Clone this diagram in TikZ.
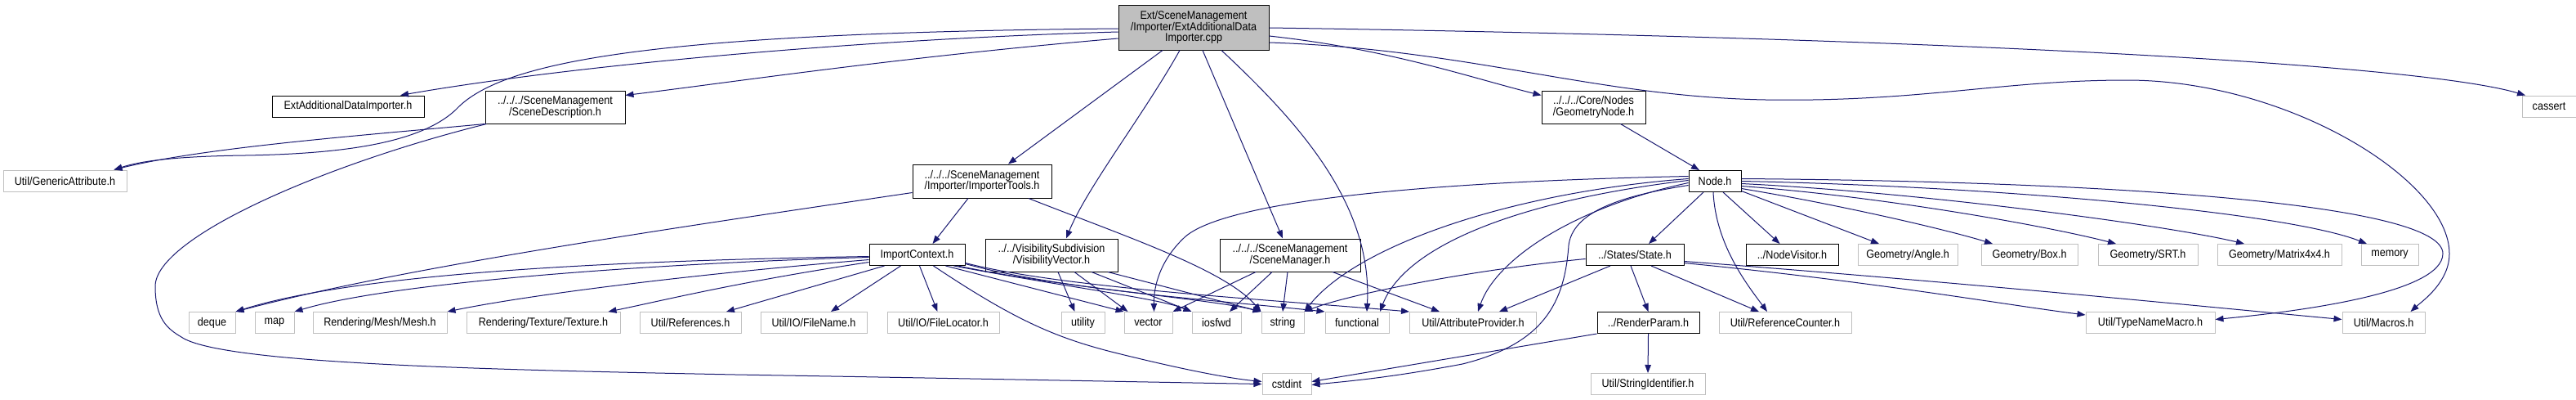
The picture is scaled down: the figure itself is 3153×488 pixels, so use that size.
\documentclass[tikz,border=0pt]{standalone}
\usepackage{fontspec}
\setmainfont{Liberation Sans}[FakeStretch=0.9]
\usetikzlibrary{arrows.meta}
\definecolor{edgec}{RGB}{25,25,112}
\definecolor{grayb}{RGB}{191,191,191}
\begin{document}
\begin{tikzpicture}[x=1pt,y=-1pt,
  box/.style={line width=1pt, inner sep=0pt, minimum height=26pt, align=center, font=\fontsize{14}{13.5}\selectfont},
  doc/.style={box, draw=black},
  ext/.style={box, draw=grayb},
  e/.style={draw=edgec, line width=1pt, -{Triangle[length=10pt,width=7.5pt]}}
]
\fill[white] (0,0) rectangle (3153,488);
\useasboundingbox (0,0) rectangle (3153,488);

% nodes
\node[doc, fill=grayb, minimum width=184pt, minimum height=55pt] (T) at (1461,33.5) {Ext/SceneManagement\\/Importer/ExtAdditionalData\\Importer.cpp};
\node[doc, minimum width=186pt] (EADI) at (426,130) {ExtAdditionalDataImporter.h};
\node[doc, minimum width=171pt, minimum height=40pt] (SD) at (679.5,131) {../../../SceneManagement\\/SceneDescription.h};
\node[ext, minimum width=151pt] (GA) at (79.5,221) {Util/GenericAttribute.h};
\node[doc, minimum width=170pt, minimum height=41pt] (IT) at (1202,221.5) {../../../SceneManagement\\/Importer/ImporterTools.h};
\node[doc, minimum width=127pt, minimum height=40pt] (GN) at (1950.5,131) {../../../Core/Nodes\\/GeometryNode.h};
\node[ext, minimum width=66pt] (cassert) at (3120,130) {cassert};
\node[doc, minimum width=64pt] (Node) at (2099,221.5) {Node.h};
\node[doc, minimum width=117pt] (IC) at (1122.5,311.5) {ImportContext.h};
\node[doc, minimum width=162pt, minimum height=40pt] (VV) at (1287,312) {../../VisibilitySubdivision\\/VisibilityVector.h};
\node[doc, minimum width=172pt, minimum height=40pt] (SM) at (1579,312) {../../../SceneManagement\\/SceneManager.h};
\node[doc, minimum width=120pt] (State) at (2001,311.5) {../States/State.h};
\node[doc, minimum width=113pt] (NV) at (2193.5,311.5) {../NodeVisitor.h};
\node[ext, minimum width=122pt] (Angle) at (2335,311.5) {Geometry/Angle.h};
\node[ext, minimum width=118pt] (Box) at (2484,311.5) {Geometry/Box.h};
\node[ext, minimum width=122pt] (SRT) at (2629,311.5) {Geometry/SRT.h};
\node[ext, minimum width=152pt] (Mat) at (2790,311.5) {Geometry/Matrix4x4.h};
\node[ext, minimum width=70pt] (memory) at (2925,311.5) {memory};

\node[ext, minimum width=57pt] (deque) at (259.5,394.5) {deque};
\node[ext, minimum width=48pt] (map) at (336,394.5) {map};
\node[ext, minimum width=164pt] (Mesh) at (465,394.5) {Rendering/Mesh/Mesh.h};
\node[ext, minimum width=188pt] (Texture) at (665,394.5) {Rendering/Texture/Texture.h};
\node[ext, minimum width=124pt] (Refs) at (845,394.5) {Util/References.h};
\node[ext, minimum width=130pt] (FileName) at (996,394.5) {Util/IO/FileName.h};
\node[ext, minimum width=137pt] (FileLoc) at (1154.5,394.5) {Util/IO/FileLocator.h};
\node[ext, minimum width=53pt] (utility) at (1325.5,394.5) {utility};
\node[ext, minimum width=59pt] (vector) at (1405.5,394.5) {vector};
\node[ext, minimum width=60pt] (iosfwd) at (1489,394.5) {iosfwd};
\node[ext, minimum width=52pt] (string) at (1570,394.5) {string};
\node[ext, minimum width=78pt] (functional) at (1661,394.5) {functional};
\node[ext, minimum width=155pt] (AttrProv) at (1803,394.5) {Util/AttributeProvider.h};
\node[doc, minimum width=125pt] (RP) at (2017.5,394.5) {../RenderParam.h};
\node[ext, minimum width=162pt] (RefCnt) at (2185,394.5) {Util/ReferenceCounter.h};
\node[ext, minimum width=158pt] (TypeName) at (2632,394.5) {Util/TypeNameMacro.h};
\node[ext, minimum width=101pt] (Macros) at (2917.5,394.5) {Util/Macros.h};
\node[ext, minimum width=60pt] (cstdint) at (1575,469.5) {cstdint};
\node[ext, minimum width=140pt] (SI) at (2017,469.5) {Util/StringIdentifier.h};

% edges from T
\draw[e] ([yshift=-1.5pt]T.west) .. controls (800,40) and (620,75) .. (562,130) .. controls (520,175) and (420,188) .. (300,190) .. controls (220,191) and (175,196) .. ([xshift=60pt]GA.north);
\draw[e] ([yshift=-5.5pt]T.west) .. controls (1050,48) and (700,80) .. ([xshift=64pt]EADI.north);
\draw[e] ([yshift=-13.5pt]T.west) .. controls (1100,70) and (900,100) .. ([yshift=-6pt]SD.north east);
\draw[e] ([xshift=-38pt]T.south) -- ([xshift=32pt]IT.north);
\draw[e] ([xshift=-17pt]T.south) .. controls (1400,140) and (1330,230) .. ([xshift=18pt]VV.north);
\draw[e] ([xshift=11pt]T.south) -- ([xshift=-9pt]SM.north);
\draw[e] ([xshift=34pt]T.south) .. controls (1590,150) and (1680,250) .. ([xshift=12pt]functional.north);
\draw[e] ([yshift=-10.5pt]T.east) .. controls (1700,60) and (1800,95) .. ([yshift=-6pt]GN.north west);
\draw[e] ([yshift=-18.5pt]T.east) .. controls (1800,60) and (1950,118) .. (2161,122) .. controls (2350,125) and (2450,98) .. (2603,98) .. controls (2800,98) and (2998,220) .. (2998,310) .. controls (2998,345) and (2965,368) .. ([xshift=33pt]Macros.north);
\draw[e] ([yshift=-0.5pt]T.east) .. controls (2300,45) and (2950,75) .. ([xshift=-29pt]cassert.north);

% SD
\draw[e] (SD.south west) .. controls (450,165) and (250,180) .. ([xshift=60pt]GA.north);
\draw[e] ([xshift=2pt]SD.south west) .. controls (400,200) and (190,290) .. (190,350) .. controls (190,390) and (205,402) .. (222,412) .. controls (270,445) and (600,452) .. (900,458) .. controls (1200,463) and (1400,467) .. (cstdint.west);

% GN
\draw[e] ([xshift=33pt]GN.south) -- ([xshift=-19pt]Node.north);

% IT
\draw[e] ([xshift=-17pt]IT.south) -- ([xshift=19pt]IC.north);
\draw[e] ([yshift=-14pt]IT.west) .. controls (850,275) and (500,325) .. (deque.north east);
\draw[e] ([xshift=57pt]IT.south) .. controls (1380,290) and (1500,330) .. (string.north west);

% IC
\draw[e] ([yshift=-2pt]IC.west) .. controls (800,318) and (450,330) .. (deque.north east);
\draw[e] ([yshift=-3pt]IC.west) .. controls (800,322) and (480,345) .. (map.north east);
\draw[e] ([yshift=-6pt]IC.west) .. controls (850,335) and (650,360) .. (Mesh.north east);
\draw[e] ([yshift=-9pt]IC.west) .. controls (900,345) and (800,370) .. ([xshift=-15pt]Texture.north east);
\draw[e] ([xshift=-40pt]IC.south) -- ([xshift=44pt]Refs.north);
\draw[e] ([xshift=-20pt]IC.south) -- ([xshift=21pt]FileName.north);
\draw[e] ([xshift=3pt]IC.south) -- ([xshift=-7pt]FileLoc.north);
\draw[e] ([xshift=20pt]IC.south) .. controls (1240,390) and (1290,412) .. (1360,430) .. controls (1440,450) and (1500,462) .. ([yshift=3pt]cstdint.west);
\draw[e] ([xshift=35pt]IC.south) -- (vector.north west);
\draw[e] ([xshift=45pt]IC.south) .. controls (1300,350) and (1420,365) .. (iosfwd.north west);
\draw[e] ([xshift=50pt]IC.south) .. controls (1300,352) and (1480,365) .. (string.north west);
\draw[e] ([yshift=-11pt]IC.east) .. controls (1300,355) and (1500,368) .. (functional.north west);
\draw[e] ([yshift=-10pt]IC.east) .. controls (1300,352) and (1550,366) .. (AttrProv.north west);

% VV
\draw[e] ([xshift=8pt]VV.south) -- ([xshift=-10pt]utility.north);
\draw[e] ([xshift=28pt]VV.south) -- ([xshift=-25pt]vector.north);
\draw[e] ([xshift=49pt]VV.south) -- (iosfwd.north west);
\draw[e] ([xshift=69pt]VV.south) -- (string.north west);

% SM
\draw[e] ([xshift=-42pt]SM.south) -- (vector.north east);
\draw[e] ([xshift=-22pt]SM.south) -- ([xshift=16pt]iosfwd.north);
\draw[e] ([xshift=-3pt]SM.south) -- (string.north);
\draw[e] ([xshift=52pt]SM.south) -- ([xshift=-41pt]AttrProv.north);

% Node.h
\draw[e] ([yshift=6pt]Node.west) .. controls (1750,222) and (1500,245) .. (1450,290) .. controls (1420,318) and (1412,350) .. ([xshift=7pt]vector.north);
\draw[e] ([yshift=3pt]Node.west) .. controls (1850,235) and (1660,300) .. (string.north east);
\draw[e] ([yshift=1pt]Node.west) .. controls (1860,245) and (1720,300) .. ([xshift=28pt]functional.north);
\draw[e] ([yshift=-2pt]Node.west) .. controls (1920,255) and (1830,320) .. ([xshift=6pt]AttrProv.north);
\draw[e] ([yshift=-5pt]Node.west) .. controls (1980,240) and (1925,260) .. (1920,300) .. controls (1915,370) and (1890,420) .. (1790,445) .. controls (1700,462) and (1650,466) .. ([yshift=-1pt]cstdint.east);
\draw[e] ([xshift=-14pt]Node.south) -- ([xshift=17pt]State.north);
\draw[e] ([xshift=-2pt]Node.south) .. controls (2100,300) and (2140,350) .. ([xshift=-22pt]RefCnt.north);
\draw[e] ([xshift=10pt]Node.south) -- ([xshift=-15pt]NV.north);
\draw[e] ([yshift=-12pt]Node.east) -- ([xshift=-35pt]Angle.north);
\draw[e] ([yshift=-9pt]Node.east) .. controls (2250,250) and (2380,280) .. ([xshift=-45pt]Box.north);
\draw[e] ([yshift=-6pt]Node.east) .. controls (2300,240) and (2500,275) .. ([xshift=-39pt]SRT.north);
\draw[e] ([yshift=-3pt]Node.east) .. controls (2350,235) and (2650,275) .. ([xshift=-43pt]Mat.north);
\draw[e] (Node.east) .. controls (2450,228) and (2800,260) .. ([xshift=-28pt]memory.north);
\draw[e] ([yshift=3pt]Node.east) .. controls (2600,222) and (2990,250) .. (2990,310) .. controls (2990,360) and (2800,382) .. ([yshift=4pt]TypeName.east);

% State
\draw[e] ([yshift=-5pt]State.west) .. controls (1800,330) and (1650,360) .. (string.north east);
\draw[e] ([xshift=-30pt]State.south) -- ([xshift=32pt]AttrProv.north);
\draw[e] ([xshift=-5pt]State.south) -- (RP.north);
\draw[e] ([xshift=20pt]State.south) -- ([xshift=-32pt]RefCnt.north);
\draw[e] ([yshift=-10pt]State.east) .. controls (2300,345) and (2450,372) .. ([yshift=-4pt]TypeName.north west);
\draw[e] ([yshift=-8pt]State.east) .. controls (2400,345) and (2700,375) .. ([yshift=4pt]Macros.west);

% RenderParam
\draw[e] (RP.south west) -- ([yshift=3pt]cstdint.east);
\draw[e] (RP.south) -- (SI.north);
\end{tikzpicture}
\end{document}
